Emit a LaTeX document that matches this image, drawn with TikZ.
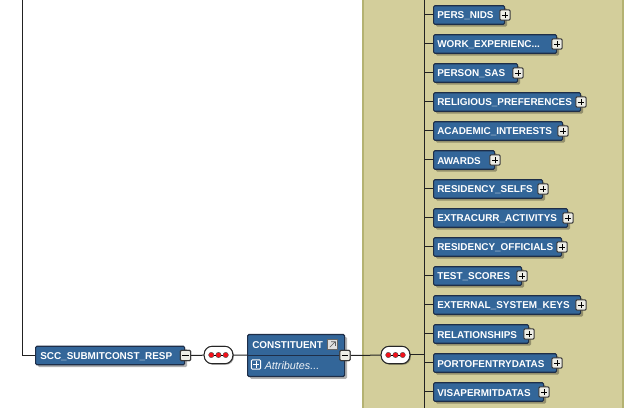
\documentclass[tikz,border=0pt]{standalone}
\usepackage{fontspec}
\setmainfont{Liberation Sans}
\usetikzlibrary{shadows,calc}
\definecolor{panelc}{HTML}{D3CE9B}
\definecolor{panelb}{HTML}{B4B272}
\definecolor{boxc}{HTML}{336699}
\definecolor{boxb}{HTML}{1E2E48}
\definecolor{wire}{HTML}{222222}
\definecolor{expb}{HTML}{3A3A3A}
\definecolor{expf}{HTML}{EDEDE6}
\definecolor{dotc}{HTML}{F5101A}
\tikzset{
  x=0.75pt,y=-0.75pt,
  wireline/.style={draw=wire,line width=0.75pt},
  elembox/.style={draw=boxb,line width=0.9pt,fill=boxc,rounded corners=1pt,inner sep=0pt,
    minimum height=14pt,anchor=west,
    drop shadow={shadow xshift=1.8pt,shadow yshift=-1.8pt,fill=black,opacity=.3}},
  elemtext/.style={text=white,font=\bfseries\fontsize{7.45}{9}\selectfont,inner sep=0pt,anchor=west},
  expbase/.style={draw=expb,line width=0.75pt,fill=expf,rounded corners=0.8pt,minimum size=7.6pt,inner sep=0pt},
  expplus/.style={expbase,path picture={
    \draw[black,line width=0.7pt] (path picture bounding box.center)+(-2.4pt,0)--+(2.4pt,0);
    \draw[black,line width=0.7pt] (path picture bounding box.center)+(0,-2.4pt)--+(0,2.4pt);}},
  expminus/.style={expbase,path picture={
    \draw[black,line width=0.7pt] (path picture bounding box.center)+(-2.4pt,0)--+(2.4pt,0);}},
  pill/.style={draw=black!85,line width=0.7pt,fill=white,rounded corners=6pt,minimum width=21.5pt,minimum height=13pt,inner sep=0pt,
    drop shadow={shadow xshift=.8pt,shadow yshift=-.8pt,fill=black,opacity=.2}},
  dotn/.style={circle,draw=black!70,line width=0.3pt,fill=dotc,minimum size=4pt,inner sep=0pt},
}
\newcommand{\pilldots}[1]{%
  \node[dotn] (#1a) at ($(#1)+(-5.4pt,0)$) {};
  \node[dotn] (#1b) at (#1) {};
  \node[dotn] (#1c) at ($(#1)+(5.4pt,0)$) {};
  \draw[black,line width=0.6pt] (#1a) -- (#1b) -- (#1c);}
\newcommand{\child}[4]{% name, y, right edge, text
  \pgfmathsetlengthmacro{\bw}{(#3-433)*0.75pt}
  \draw[wireline] (spine |- 433,#2) -- (433,#2);
  \node[elembox,minimum width=\bw] (#1) at (433,#2) {};
  \node[elemtext] (#1t) at (437,#2+1) {#4};
  \node[expplus] (#1x) at (#3+1,#2) {};}
\begin{document}
\begin{tikzpicture}
\useasboundingbox (0,0) rectangle (632,416);
\fill[white] (0,0) rectangle (632,416);
\fill[panelc] (363,0) rectangle (623,408);
\draw[panelb,line width=1.2pt] (363,0) -- (363,408);
\draw[panelb,line width=1.2pt] (623,0) -- (623,408);
\coordinate (spine) at (424,0);
\coordinate (spineend) at (424,408);
\coordinate (trunk) at (22,0);
\draw[wireline] (spine) -- (spineend);
\child{c1}{15}{504}{PERS\_NIDS}
\child{c2}{44}{556}{WORK\_EXPERIENC...}
\child{c3}{73}{517}{PERSON\_SAS}
\child{c4}{102}{580}{RELIGIOUS\_PREFERENCES}
\child{c5}{131}{562}{ACADEMIC\_INTERESTS}
\child{c6}{160}{494}{AWARDS}
\child{c7}{189}{542}{RESIDENCY\_SELFS}
\child{c8}{218}{567}{EXTRACURR\_ACTIVITYS}
\child{c9}{247}{561}{RESIDENCY\_OFFICIALS}
\child{c10}{276}{521}{TEST\_SCORES}
\child{c11}{305}{580}{EXTERNAL\_SYSTEM\_KEYS}
\child{c12}{334}{528}{RELATIONSHIPS}
\child{c13}{363}{556}{PORTOFENTRYDATAS}
\child{c14}{392}{543}{VISAPERMITDATAS}
% root element
\node[elembox,minimum width=111.75pt] (root) at (35,355.5) {};
\node[elemtext] (roott) at (40,356.5) {SCC\_SUBMITCONST\_RESP};
\node[expminus] (rootx) at (185.5,355.5) {};
\draw[wireline] (trunk) |- (root.west);
% first sequence
\node[pill] (seqa) at (218.5,355) {};
% constituent
\node[elembox,minimum width=72.75pt,minimum height=31.5pt] (cons) at (247,355.5) {};
\node[elemtext] (const) at (252,345.5) {CONSTITUENT};
\draw[boxb,line width=0.7pt] (cons.west) -- (cons.east);
\node[expminus] (consx) at (345,355.5) {};
\node[draw=black!60,line width=0.6pt,fill=black!12,minimum size=8pt,inner sep=0pt] (consi) at (332.5,344.5) {};
\draw[black!65,line width=0.5pt] ($(consi)+(-2pt,-2pt)$) -- ($(consi)+(2pt,2pt)$) -- ($(consi)+(-1pt,2pt)$);
\draw[black!65,line width=0.5pt] ($(consi)+(2pt,2pt)$) -- ($(consi)+(2pt,-1pt)$);
\node[expplus,draw=white,fill=boxc,minimum size=7pt,path picture={
    \draw[white,line width=0.7pt] (path picture bounding box.center)+(-2.3pt,0)--+(2.3pt,0);
    \draw[white,line width=0.7pt] (path picture bounding box.center)+(0,-2.3pt)--+(0,2.3pt);}] (attx) at (256,364.5) {};
\node[text=white!92!boxc,font=\itshape\fontsize{8.1}{9}\selectfont,inner sep=0pt,anchor=west] (attr) at (264.5,366) {Attributes...};
% second sequence
\node[pill] (seqb) at (395.5,355) {};
% connectors
\draw[wireline] (rootx) -- (seqa);
\draw[wireline] (seqa) -- (cons);
\draw[wireline] (consx) -- (seqb);
\draw[wireline] (seqb) -- (seqb -| spine);
\node[pill] at (seqa) {};
\node[pill] at (seqb) {};
\pilldots{seqa}
\pilldots{seqb}
\node[expminus] at (rootx) {};
\node[expminus] at (consx) {};
\end{tikzpicture}
\end{document}
